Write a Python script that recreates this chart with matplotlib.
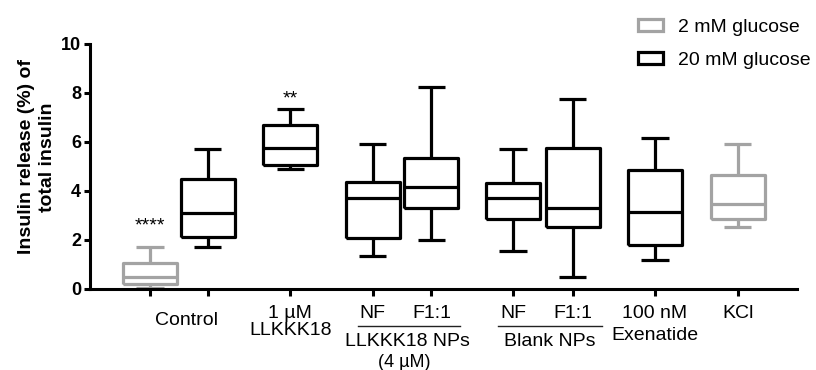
import matplotlib
matplotlib.use("Agg")
import matplotlib.pyplot as plt
from matplotlib.patches import Patch
from matplotlib.lines import Line2D

plt.rcParams['font.family'] = ['Liberation Sans', 'DejaVu Sans']

# ---- data ----
groups = ["Control 2mM", "Control 20mM", "1 uM LLKKK18", "NPs NF", "NPs F1:1",
          "Blank NF", "Blank F1:1", "Exenatide", "KCl"]
glucose = ["2", "20", "20", "20", "20", "20", "20", "20", "2"]
whislo = [0.03, 1.71, 4.89, 1.34, 1.98, 1.55, 0.46, 1.17, 2.50]
q1     = [0.20, 2.11, 5.05, 2.05, 3.28, 2.84, 2.50, 1.78, 2.83]
med    = [0.48, 3.10, 5.73, 3.69, 4.14, 3.71, 3.30, 3.14, 3.44]
q3     = [1.05, 4.47, 6.69, 4.37, 5.35, 4.30, 5.73, 4.85, 4.64]
whishi = [1.71, 5.71, 7.34, 5.91, 8.25, 5.71, 7.74, 6.14, 5.91]
star_idx = [0, 2]
star_text = ["****", "**"]
star_y = [2.56, 7.75]
legend_labels = ["2 mM glucose", "20 mM glucose"]
yticks = [0, 2, 4, 6, 8, 10]

# ---- layout ----
positions = [0, 0.70, 1.70, 2.70, 3.41, 4.40, 5.12, 6.12, 7.12]
GRAY = "#a3a3a3"
BLACK = "#000000"
LW = 2.3

fig = plt.figure(figsize=(8.16, 3.70), dpi=100)
ax = fig.add_axes([90/816, (370-288.5)/370, (797-90)/816, 244.5/370])

for i in range(len(groups)):
    col = GRAY if glucose[i] == "2" else BLACK
    st = [dict(whislo=whislo[i], q1=q1[i], med=med[i], q3=q3[i], whishi=whishi[i], fliers=[])]
    arts = ax.bxp(st, positions=[positions[i]], widths=0.655, capwidths=0.33,
                  showfliers=False, manage_ticks=False,
                  boxprops=dict(color=col, linewidth=LW),
                  whiskerprops=dict(color=col, linewidth=LW),
                  capprops=dict(color=col, linewidth=LW),
                  medianprops=dict(color=col, linewidth=LW))
    for k in arts:
        for a in arts[k]:
            a.set_clip_on(False)
            a.set_solid_capstyle('butt')

for i, s, y in zip(star_idx, star_text, star_y):
    ax.text(positions[i], y, s, ha='center', va='center', fontsize=14)

ax.set_xlim(-0.727, 7.84)
ax.set_ylim(0, 10)
ax.set_yticks(yticks)
ax.set_yticklabels([str(v) for v in yticks], fontsize=13, fontweight='bold')
ax.set_xticks(positions)
ax.set_xticklabels([])
for sp in ['top', 'right']:
    ax.spines[sp].set_visible(False)
for sp in ['left', 'bottom']:
    ax.spines[sp].set_linewidth(2.2)
ax.tick_params(axis='y', length=4.5, width=2.2, pad=2)
ax.tick_params(axis='x', length=5, width=2.2)
ax.set_ylabel("Insulin release (%) of\ntotal insulin", fontsize=14, fontweight='bold',
              linespacing=1.3)
ax.yaxis.set_label_coords(-0.048, 0.538)

tr = ax.get_xaxis_transform()
def lab(x, dy, s, fs=14):
    ax.annotate(s, xy=(x, 0), xycoords=tr, xytext=(0, dy), textcoords='offset pixels',
                ha='center', va='baseline', fontsize=fs, annotation_clip=False)

lab(0.448, -36.5, "Control")
lab(positions[2], -29.5, "1 \u00b5M")
lab(positions[2], -46.5, "LLKKK18")
lab(positions[3], -29.5, "NF")
lab(positions[4], -29.5, "F1:1")
lab(positions[5], -29.5, "NF")
lab(positions[6], -29.5, "F1:1")
lab(positions[7], -29.5, "100 nM")
lab(positions[7], -51.0, "Exenatide")
lab(positions[8], -29.5, "KCl")
lab(3.12, -58.0, "LLKKK18 NPs")
lab(3.08, -78.5, "(4 \u00b5M)", fs=13)
lab(4.85, -58.0, "Blank NPs")

yl = -37.5 / 244.5
for x0, x1 in [(2.52, 3.76), (4.22, 5.48)]:
    ax.add_line(Line2D([x0, x1], [yl, yl], transform=tr, color='#222222',
                       linewidth=1.0, clip_on=False))

handles = [Patch(facecolor='white', edgecolor=GRAY, linewidth=2.3),
           Patch(facecolor='white', edgecolor=BLACK, linewidth=2.3)]
fig.legend(handles, legend_labels, loc='upper left',
           bbox_to_anchor=(638/816, 1 - 19/370), frameon=False, fontsize=14,
           handlelength=1.3, handleheight=0.55, handletextpad=0.75,
           labelspacing=0.8, borderaxespad=0, borderpad=0)

fig.savefig("out.png", dpi=100)
